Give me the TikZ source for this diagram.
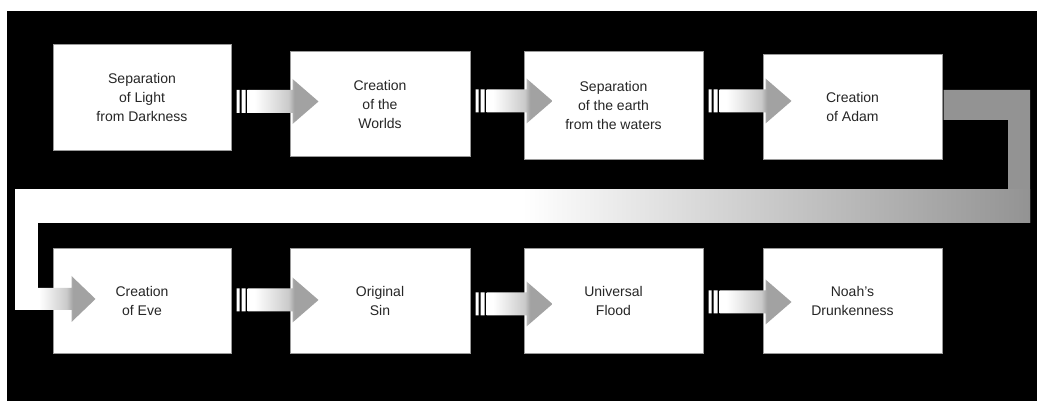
\documentclass[tikz,border=0pt]{standalone}
\usepackage{fontspec}
\setmainfont{Liberation Sans}
\usetikzlibrary{calc}
\definecolor{armgray}{HTML}{939393}
\definecolor{headgray}{HTML}{A2A2A2}
\definecolor{midgray}{HTML}{CACACA}
\definecolor{boxline}{HTML}{9A9A9A}
\pgfdeclarehorizontalshading{armshade}{100bp}{color(0bp)=(white); color(25bp)=(white); color(30bp)=(white); color(54bp)=(midgray); color(58bp)=(headgray); color(100bp)=(headgray)}
\pgfdeclarehorizontalshading{bandshade}{100bp}{color(0bp)=(white); color(25bp)=(white); color(50bp)=(white); color(62bp)=(midgray); color(75bp)=(armgray); color(100bp)=(armgray)}
\pgfdeclarehorizontalshading{tailshade}{100bp}{color(0bp)=(white); color(25bp)=(white); color(40bp)=(white); color(57bp)=(midgray); color(61bp)=(headgray); color(100bp)=(headgray)}
\tikzset{
  stepbox/.style={draw=boxline, line width=1pt, fill=white, minimum width=178pt, minimum height=106pt, inner sep=2pt, align=center, text=black!85, font=\fontsize{14}{19}\selectfont},
}
% striped block arrow between two named boxes at height #3
\newcommand\flowarrow[3]{%
  \path[fill=white] let \p1=(#1.east) in
    (\x1+5pt,#3pt-11.5pt) rectangle (\x1+8pt,#3pt+11.5pt)
    (\x1+10pt,#3pt-11.5pt) rectangle (\x1+14pt,#3pt+11.5pt);
  \path[shading=armshade] let \p1=(#1.east), \p2=(#2.west) in
    (\x1+16pt,#3pt-11.5pt) -- (\x2+3pt,#3pt-11.5pt) -- (\x2+3pt,#3pt-22.5pt)
    -- (\x2+29pt,#3pt) -- (\x2+3pt,#3pt+22.5pt) -- (\x2+3pt,#3pt+11.5pt)
    -- (\x1+16pt,#3pt+11.5pt) -- cycle;
}
\begin{document}
\begin{tikzpicture}[x=1pt,y=1pt]
\useasboundingbox (0,0) rectangle (1037,401);
\fill[white] (0,0) rectangle (1037,401);
\fill[black] (7,0) rectangle (1037,390);

% boxes
\node[stepbox] (b1) at (142,303)   {Separation\\of Light\\from Darkness};
\node[stepbox, minimum width=180pt, minimum height=105pt] (b2) at (380,296.5) {Creation\\of the\\Worlds};
\node[stepbox, minimum width=179pt, minimum height=108pt] (b3) at (613.5,295) {Separation\\of the earth\\from the waters};
\node[stepbox, minimum width=179pt, minimum height=105pt] (b4) at (852.5,293.5) {Creation\\of Adam};
\node[stepbox, minimum height=105pt] (b5) at (142,99.5) {Creation\\of Eve};
\node[stepbox, minimum width=180pt, minimum height=105pt] (b6) at (380,99.5) {Original\\Sin};
\node[stepbox, minimum width=179pt, minimum height=105pt] (b7) at (613.5,99.5) {Universal\\Flood};
\node[stepbox, minimum width=179pt, minimum height=105pt] (b8) at (852.5,99.5) {Noah's\\Drunkenness};

% small arrows
\flowarrow{b1}{b2}{299.5}
\flowarrow{b2}{b3}{300}
\flowarrow{b3}{b4}{300}
\flowarrow{b5}{b6}{101}
\flowarrow{b6}{b7}{97}
\flowarrow{b7}{b8}{99}

% big return connector from b4 to b5
\path[fill=armgray] let \p1=(b4.east) in
  (\x1+1pt,311) -- (1030,311) -- (1030,178) -- (1008,178) -- (1008,281) -- (\x1+1pt,281) -- cycle;
\path[shading=bandshade] (15,178) rectangle (1030,211);
\fill[white] (15,113) rectangle (38,211);
\path[shading=tailshade] let \p2=(b5.west) in
  (15,91) -- (\x2+19pt,91) -- (\x2+19pt,79) -- (\x2+43pt,102) -- (\x2+19pt,125)
  -- (\x2+19pt,113) -- (15,113) -- cycle;
\end{tikzpicture}
\end{document}
